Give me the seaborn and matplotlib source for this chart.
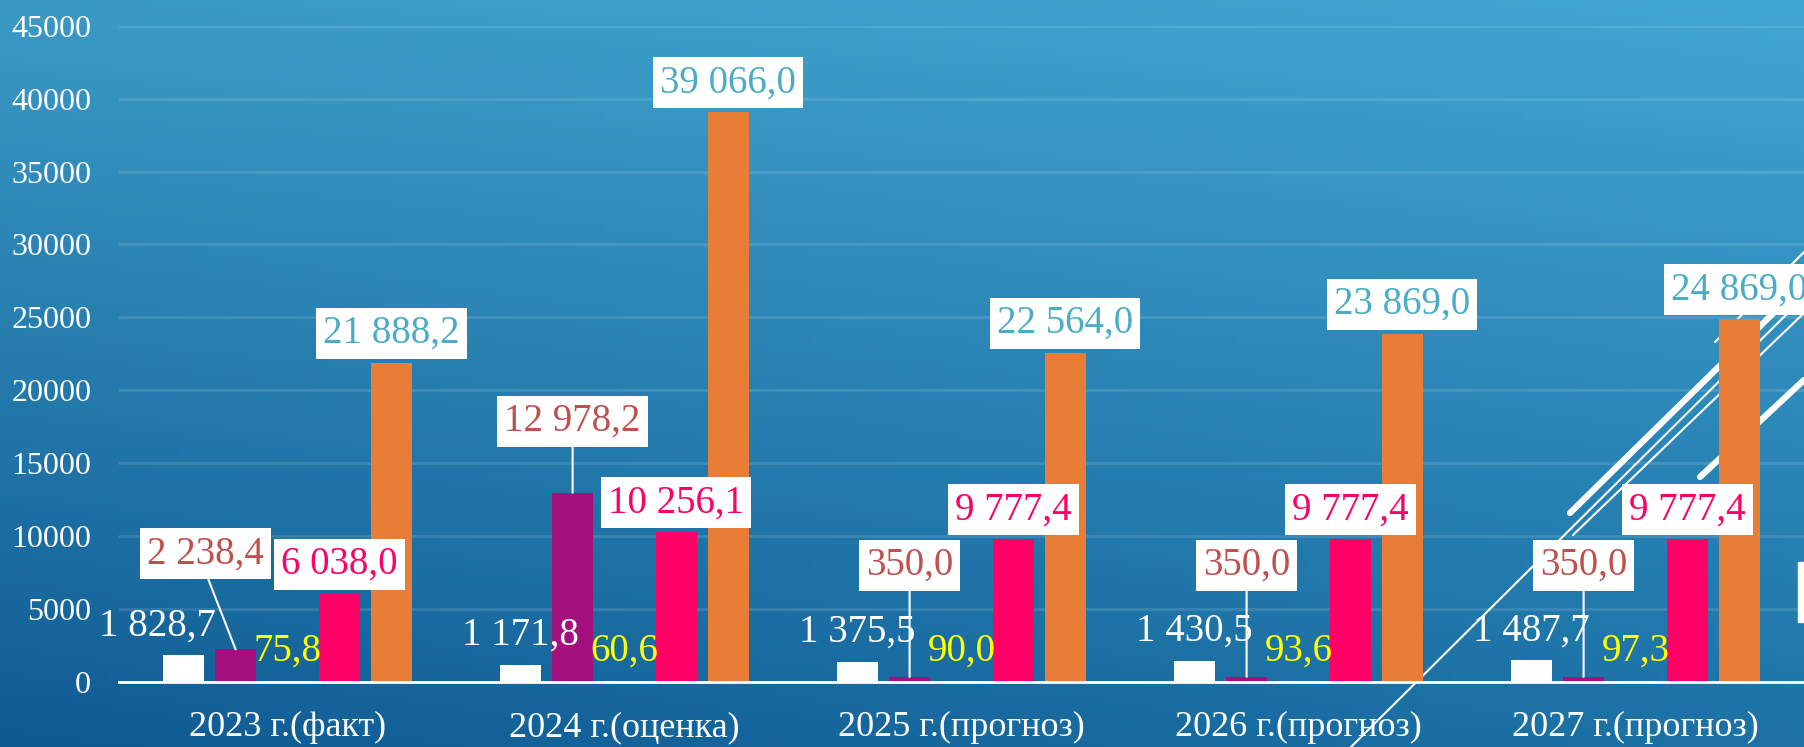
import numpy as np
import pandas as pd
import seaborn as sns
import matplotlib.pyplot as plt
from matplotlib.colors import to_rgb
from matplotlib.patches import Rectangle

# ---- data ----
years = ['2023 г.(факт)', '2024 г.(оценка)', '2025 г.(прогноз)',
         '2026 г.(прогноз)', '2027 г.(прогноз)']
series = ['Ряд 1', 'Ряд 2', 'Ряд 3', 'Ряд 4', 'Ряд 5']
white_vals = [1828.7, 1171.8, 1375.5, 1430.5, 1487.7]
purple_vals = [2238.4, 12978.2, 350.0, 350.0, 350.0]
yellow_vals = [75.8, 60.6, 90.0, 93.6, 97.3]
pink_vals = [6038.0, 10256.1, 9777.4, 9777.4, 9777.4]
orange_vals = [21888.2, 39066.0, 22564.0, 23869.0, 24869.0]

bar_colors = ['#ffffff', '#a3117e', '#ffff00', '#ff0066', '#e87d37']
text_colors = ['#ffffff', '#c0504d', '#ffff00', '#ff0066', '#4bacc6']
boxed = [False, True, False, True, True]

df = pd.DataFrame({
    'year': years * 5,
    'series': np.repeat(series, 5),
    'value': white_vals + purple_vals + yellow_vals + pink_vals + orange_vals,
})

plt.rcParams['font.family'] = ['Liberation Serif', 'DejaVu Serif']

W, H = 1804, 747
fig = plt.figure(figsize=(W / 100, H / 100), dpi=100)

# slide background: bilinear gradient + decorative lines
bg = fig.add_axes([0, 0, 1, 1], zorder=-5)
tl, tr = np.array(to_rgb('#3a9ac5')), np.array(to_rgb('#42a6d2'))
bl, br = np.array(to_rgb('#0f5b93')), np.array(to_rgb('#1c72a6'))
u = np.linspace(0, 1, 200)[None, :, None]
v = np.linspace(0, 1, 100)[:, None, None]
grad = (1 - v) * ((1 - u) * tl + u * tr) + v * ((1 - u) * bl + u * br)
bg.imshow(grad, extent=[0, W, H, 0], aspect='auto')
deco = [((1351, 747), (1804, 297), 1.5), ((1573, 535), (1804, 313), 1.5),
        ((1570, 513), (1804, 283), 4.5), ((1715, 342), (1804, 252), 1.5),
        ((1700, 477), (1804, 380), 4.5)]
for (x0, y0), (x1, y1), lw in deco:
    bg.plot([x0, x1], [y0, y1], color='white', lw=lw, solid_capstyle='round')
bg.add_patch(Rectangle((1798, 562), 8, 60, color='white'))
bg.set_xlim(0, W)
bg.set_ylim(H, 0)
bg.axis('off')

# chart
ax = fig.add_axes([119 / W, 65 / H, 1685 / W, 656.3 / H])
ax.set_facecolor('none')
sns.barplot(data=df, x='year', y='value', hue='series', hue_order=series,
            palette=bar_colors, saturation=1, width=0.77, gap=0.21,
            legend=False, ax=ax)

ax.set_ylim(0, 45000)
ax.set_xlim(-0.5, 4.5)
ax.set_yticks(range(0, 45001, 5000))
ax.yaxis.grid(True, color='white', alpha=0.12, lw=2)
ax.set_axisbelow(True)
for s in ['top', 'right', 'left']:
    ax.spines[s].set_visible(False)
ax.spines['bottom'].set_color('white')
ax.spines['bottom'].set_linewidth(2)
ax.tick_params(axis='y', length=0, pad=20, labelsize=23, labelcolor='white')
ax.tick_params(axis='x', length=0, pad=21, labelsize=26, labelcolor='white')
ax.set_xlabel('')
ax.set_ylabel('')


def fmt(val):
    return f'{val:,.1f}'.replace(',', ' ').replace('.', ',')


# label layout (pixel offsets from the bar top)
purple_lift = [86, 62, 102, 102, 102]
purple_shift = [-30, 0, 0, 0, 0]
white_shift = [-26, 0, 0, 0, 0]

for k, cont in enumerate(ax.containers):
    for i, bar in enumerate(cont):
        x = bar.get_x() + bar.get_width() / 2
        top = bar.get_height()
        label = fmt(top)
        kw = dict(textcoords='offset pixels', ha='center', va='baseline',
                  fontsize=28, color=text_colors[k], zorder=5)
        if boxed[k]:
            kw['bbox'] = dict(boxstyle='square,pad=0.18', fc='white', ec='none')
        if k == 1:
            ax.annotate(label, (x, top), xytext=(purple_shift[i], purple_lift[i]),
                        arrowprops=dict(arrowstyle='-', color='white', lw=1.5,
                                        shrinkA=0, shrinkB=0, relpos=(0.5, 0)),
                        **kw)
        elif k == 0:
            ax.annotate(label, (x, top), xytext=(white_shift[i], 20), **kw)
        else:
            ax.annotate(label, (x, top), xytext=(0, 20), **kw)

fig.savefig('out.png', dpi=100)
